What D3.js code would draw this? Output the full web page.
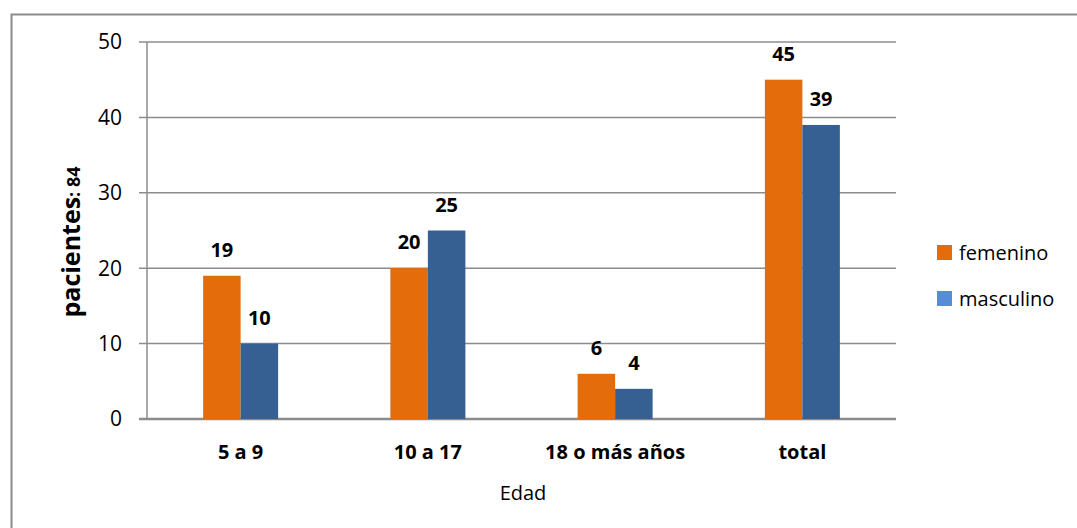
<!DOCTYPE html>
<html>
<head>
<meta charset="utf-8">
<script src="https://cdn.jsdelivr.net/npm/d3@7"></script>
<style>
  body { margin: 0; background: #fff; }
  text { font-family: "Open Sans", "Noto Sans", sans-serif; }
</style>
</head>
<body>
<svg width="1077" height="528"></svg>
<script>
// Data
var categories = ["5 a 9", "10 a 17", "18 o más años", "total"];
var femenino = [19, 20, 6, 45];
var masculino = [10, 25, 4, 39];
var yTicks = [0, 10, 20, 30, 40, 50];
var seriesNames = ["femenino", "masculino"];

var svg = d3.select("svg"),
    width = +svg.attr("width"),
    height = +svg.attr("height");

var margin = { left: 147, top: 42, right: 896, bottom: 419 };

// Outer frame
svg.append("rect")
    .attr("x", 11.5).attr("y", 14.5)
    .attr("width", 1100).attr("height", 600)
    .attr("fill", "none")
    .attr("stroke", "#8c8c8c")
    .attr("stroke-width", 2);

var x = d3.scaleBand()
    .domain(categories)
    .range([margin.left, margin.right]);

var x1 = d3.scaleBand()
    .domain(seriesNames)
    .range([0, 75])
    .padding(0);

var y = d3.scaleLinear()
    .domain([0, 50])
    .range([margin.bottom, margin.top]);

// Gridlines
svg.append("g")
    .selectAll("line")
    .data(yTicks)
    .enter().append("line")
    .attr("x1", margin.left - 8)
    .attr("x2", margin.right)
    .attr("y1", d => y(d))
    .attr("y2", d => y(d))
    .style("stroke", "#8c8c8c")
    .style("stroke-width", d => d === 0 ? 2.5 : 1.5);

// Y axis line
svg.append("line")
    .attr("x1", margin.left).attr("x2", margin.left)
    .attr("y1", margin.top).attr("y2", margin.bottom)
    .style("stroke", "#8c8c8c")
    .style("stroke-width", 1.5);

// Y tick labels
svg.append("g")
    .selectAll("text")
    .data(yTicks)
    .enter().append("text")
    .attr("x", 122)
    .attr("y", d => y(d))
    .attr("dy", "0.35em")
    .attr("text-anchor", "end")
    .style("font-size", "21px")
    .style("fill", "#000")
    .text(d => d);

// Bars
var rows = categories.map((c, i) => ({ cat: c, vals: [femenino[i], masculino[i]] }));
var colors = { femenino: "#e46c0a", masculino: "#376092" };

var groups = svg.append("g")
    .selectAll("g")
    .data(rows)
    .enter().append("g")
    .attr("transform", d => "translate(" + (x(d.cat) + x.bandwidth() / 2 - 37.5) + ",0)");

groups.selectAll("rect")
    .data(d => d.vals.map((v, j) => ({ key: seriesNames[j], v: v })))
    .enter().append("rect")
    .attr("x", d => x1(d.key))
    .attr("y", d => y(d.v))
    .attr("width", x1.bandwidth())
    .attr("height", d => y(0) - y(d.v))
    .attr("fill", d => colors[d.key]);

groups.selectAll("text")
    .data(d => d.vals.map((v, j) => ({ key: seriesNames[j], v: v })))
    .enter().append("text")
    .attr("x", d => x1(d.key) + x1.bandwidth() / 2)
    .attr("y", d => y(d.v) - 19)
    .attr("text-anchor", "middle")
    .style("font-size", "20px")
    .style("font-weight", "bold")
    .text(d => d.v);

// Category labels
svg.append("g")
    .selectAll("text")
    .data(categories)
    .enter().append("text")
    .attr("x", d => x(d) + x.bandwidth() / 2)
    .attr("y", 459)
    .attr("text-anchor", "middle")
    .style("font-size", "20px")
    .style("font-weight", "bold")
    .text(d => d);

// X axis title
svg.append("text")
    .attr("x", 523)
    .attr("y", 500)
    .attr("text-anchor", "middle")
    .style("font-size", "20px")
    .text("Edad");

// Y axis title
var yt = svg.append("text")
    .attr("transform", "translate(80,242) rotate(-90)")
    .attr("text-anchor", "middle")
    .style("font-weight", "bold");
yt.append("tspan").style("font-size", "25px").text("pacientes");
yt.append("tspan").style("font-size", "18px").text(": 84");

// Legend
var legend = svg.append("g")
    .selectAll("g")
    .data(seriesNames)
    .enter().append("g")
    .attr("transform", (d, i) => "translate(937," + (245 + i * 46) + ")");

legend.append("rect")
    .attr("width", 15).attr("height", 15)
    .attr("fill", d => d === "femenino" ? "#e46c0a" : "#558ed5");

legend.append("text")
    .attr("x", 22).attr("y", 8)
    .attr("dy", "0.35em")
    .style("font-size", "20px")
    .text(d => d);
</script>
</body>
</html>
